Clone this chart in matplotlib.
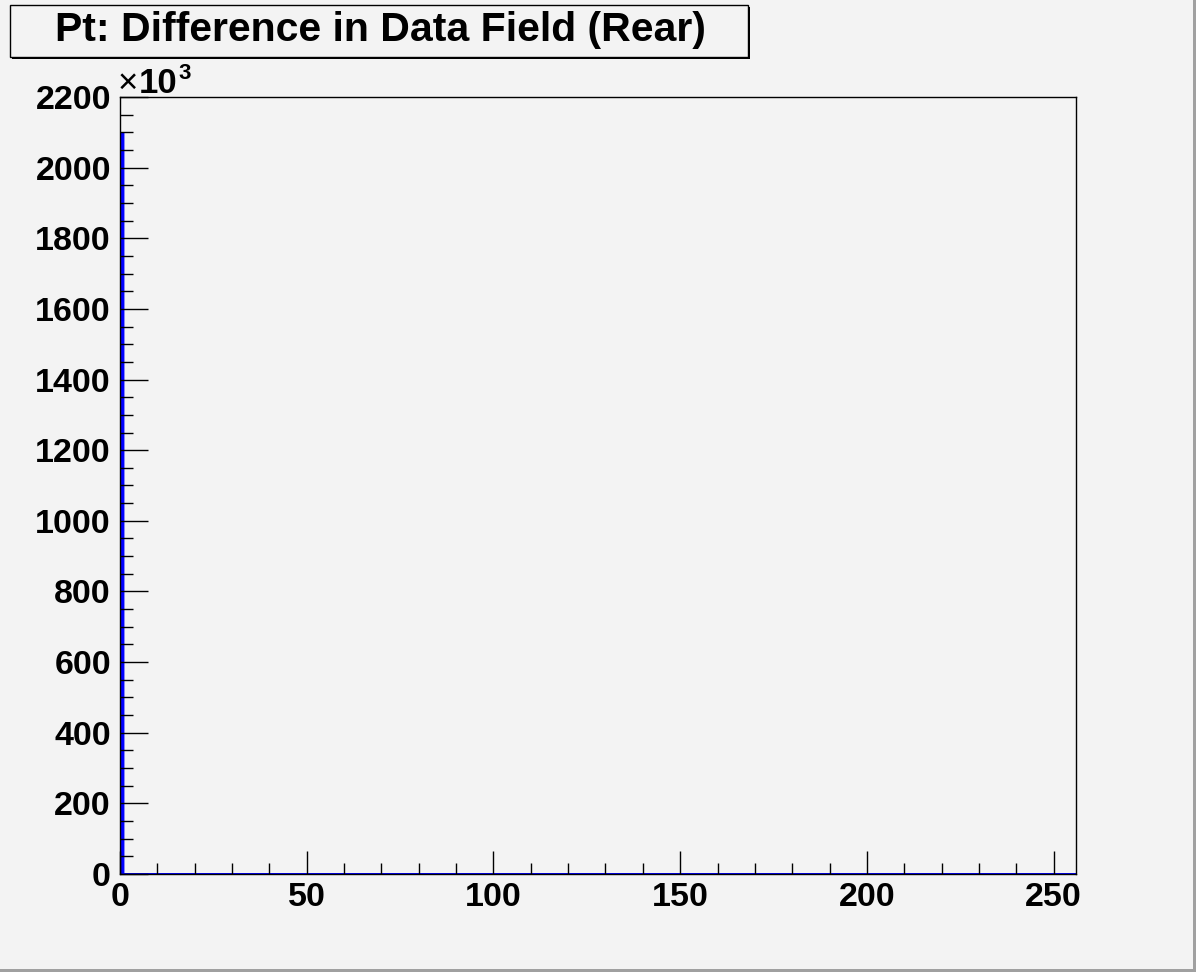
import matplotlib
matplotlib.use("Agg")
import matplotlib.pyplot as plt
import matplotlib.patches as mpatches
from matplotlib.ticker import MultipleLocator
import numpy as np

# histogram data: 256 bins, all entries in the first bin
bin_edges = np.arange(0, 257, 1)
counts = [2098000] + [0] * 255
title = "Pt: Difference in Data Field (Rear)"
x_ticks = [0, 50, 100, 150, 200, 250]
y_ticks = [0, 200, 400, 600, 800, 1000, 1200, 1400, 1600, 1800, 2000, 2200]

bg = "#f3f3f3"
plt.rcParams['font.family'] = ['Liberation Sans', 'DejaVu Sans']
plt.rcParams['font.weight'] = 'bold'

fig = plt.figure(figsize=(11.96, 9.72), dpi=100, facecolor=bg)
ax = fig.add_axes([120 / 1196, 1 - 874 / 972, 956 / 1196, 777 / 972])
ax.set_facecolor(bg)

scaled = np.array(counts) / 1000.0
ax.hist(bin_edges[:-1], bins=bin_edges, weights=scaled, histtype='stepfilled',
        facecolor='#0000ff', edgecolor='#0000ff', linewidth=1)

ax.set_xlim(0, 256)
ax.set_ylim(0, 2200)
ax.set_xticks(x_ticks)
ax.set_yticks(y_ticks)
ax.xaxis.set_minor_locator(MultipleLocator(10))
ax.yaxis.set_minor_locator(MultipleLocator(50))
ax.tick_params(which='both', direction='in', top=False, right=False, width=1, color='black')
ax.tick_params(which='major', axis='x', length=16.5, labelsize=24.5, pad=6)
ax.tick_params(which='minor', axis='x', length=8)
ax.tick_params(which='major', axis='y', length=20.5, labelsize=24.5, pad=6.5)
ax.tick_params(which='minor', axis='y', length=9.5)
for lab in ax.get_xticklabels() + ax.get_yticklabels():
    lab.set_fontweight('bold')
for sp in ax.spines.values():
    sp.set_linewidth(1)

# exponent label: thin times sign, bold 10, superscript 3
fig.text(118 / 1196, 1 - 93 / 972, "\u00d7", fontsize=25, fontweight='normal',
         family='Liberation Sans', ha='left', va='baseline')
fig.text(139 / 1196, 1 - 93 / 972, "10", fontsize=25, fontweight='bold',
         ha='left', va='baseline')
fig.text(178 / 1196, 1 - 79 / 972, "3", fontsize=16, fontweight='bold',
         ha='left', va='baseline')

# title box with shadow
x0, y0, x1, y1 = 10 / 1196, 1 - 57 / 972, 748 / 1196, 1 - 5 / 972
fig.patches.append(mpatches.Rectangle((x0 + 2 / 1196, y0 - 2 / 972), x1 - x0, y1 - y0,
                                      transform=fig.transFigure, facecolor='black',
                                      edgecolor='none', zorder=1))
fig.patches.append(mpatches.Rectangle((x0, y0), x1 - x0, y1 - y0,
                                      transform=fig.transFigure, facecolor=bg,
                                      edgecolor='black', linewidth=1, zorder=2))
fig.text((x0 + x1) / 2 + 1 / 1196, 1 - 41 / 972, title, fontsize=29.5, fontweight='bold',
         ha='center', va='baseline', zorder=3)

# canvas bevel on right and bottom
fig.patches.append(mpatches.Rectangle((0, 0), 1, 3 / 972, transform=fig.transFigure,
                                      facecolor='#a0a0a0', edgecolor='none'))
fig.patches.append(mpatches.Rectangle((1 - 3 / 1196, 0), 3 / 1196, 1, transform=fig.transFigure,
                                      facecolor='#a0a0a0', edgecolor='none'))

fig.savefig("out.png", dpi=100, facecolor=bg)
